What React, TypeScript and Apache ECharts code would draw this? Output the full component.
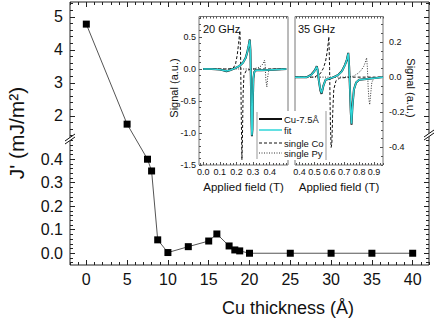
import React, { useEffect, useRef } from "react";
import * as echarts from "echarts";

// ---------- main panel data ----------
const thickness = [0, 5, 7.5, 8, 8.75, 10, 12.5, 15, 16, 17.5, 18.2, 18.8, 20, 25, 30, 35, 40];
const coupling = [4.78, 1.75, 0.4, 0.35, 0.057, 0.003, 0.028, 0.052, 0.082, 0.031, 0.014, 0.01, 0.0, 0.0, 0.0, 0.0, 0.0];
const xMajor = [0, 5, 10, 15, 20, 25, 30, 35, 40];
const yLowMajor = [0, 0.1, 0.2, 0.3, 0.4];
const yHighMajor = [2, 3, 4, 5];

// ---------- inset 20 GHz ----------
const cu20X = [0.0, 0.05, 0.1, 0.12, 0.14, 0.16, 0.19, 0.22, 0.24, 0.255, 0.265, 0.273, 0.28, 0.284, 0.287, 0.29, 0.293, 0.296, 0.299, 0.302, 0.307, 0.317, 0.35, 0.42, 0.5];
const cu20Y = [0.0, 0.0, -0.01, -0.02, -0.035, -0.02, 0.01, 0.05, 0.1, 0.17, 0.26, 0.36, 0.46, 0.3, -0.2, -0.75, -1.05, -0.95, -0.45, -0.15, -0.05, -0.02, -0.02, -0.01, 0.0];
const fit20Y = [0.0, 0.0, -0.01, -0.02, -0.03, -0.02, 0.01, 0.05, 0.1, 0.17, 0.26, 0.36, 0.45, 0.28, -0.22, -0.78, -1.04, -0.92, -0.42, -0.14, -0.05, -0.02, -0.02, -0.01, 0.0];
const co20X = [0.0, 0.15, 0.18, 0.195, 0.205, 0.213, 0.218, 0.221, 0.225, 0.229, 0.233, 0.236, 0.24, 0.245, 0.26, 0.3, 0.5];
const co20Y = [0.0, 0.0, 0.01, 0.08, 0.22, 0.4, 0.54, 0.6, 0.2, -0.7, -1.42, -1.1, -0.4, -0.1, -0.02, 0.0, 0.0];
const py20X = [0.0, 0.2, 0.3, 0.33, 0.35, 0.362, 0.369, 0.373, 0.377, 0.383, 0.387, 0.393, 0.4, 0.43, 0.5];
const py20Y = [0.0, 0.0, 0.0, 0.02, 0.05, 0.09, 0.14, 0.05, -0.18, -0.28, -0.15, -0.04, -0.01, 0.0, 0.0];

// ---------- inset 35 GHz ----------
const cu35X = [0.37, 0.45, 0.48, 0.5, 0.51, 0.516, 0.522, 0.53, 0.54, 0.548, 0.56, 0.575, 0.6, 0.63, 0.66, 0.685, 0.705, 0.718, 0.727, 0.733, 0.739, 0.744, 0.749, 0.755, 0.765, 0.78, 0.8, 0.85, 0.96];
const cu35Y = [0.0, 0.0, 0.015, 0.035, 0.05, 0.062, 0.04, -0.02, -0.075, -0.095, -0.05, -0.015, -0.01, 0.0, 0.013, 0.035, 0.07, 0.1, 0.138, 0.06, -0.08, -0.2, -0.27, -0.17, -0.07, -0.03, -0.015, -0.01, 0.0];
const fit35Y = [0.0, 0.0, 0.013, 0.033, 0.05, 0.06, 0.04, -0.02, -0.072, -0.09, -0.05, -0.015, -0.008, 0.0, 0.012, 0.034, 0.068, 0.1, 0.135, 0.06, -0.08, -0.2, -0.265, -0.17, -0.07, -0.03, -0.015, -0.01, 0.0];
const co35X = [0.37, 0.5, 0.54, 0.56, 0.575, 0.585, 0.592, 0.597, 0.602, 0.607, 0.612, 0.617, 0.623, 0.63, 0.645, 0.67, 0.75, 0.96];
const co35Y = [0.0, 0.0, 0.02, 0.05, 0.09, 0.14, 0.19, 0.23, 0.05, -0.25, -0.4, -0.38, -0.2, -0.07, -0.02, -0.005, 0.0, 0.0];
const py35X = [0.37, 0.6, 0.7, 0.76, 0.79, 0.815, 0.83, 0.842, 0.85, 0.855, 0.86, 0.866, 0.871, 0.877, 0.885, 0.9, 0.96];
const py35Y = [0.0, 0.0, 0.0, 0.005, 0.02, 0.04, 0.06, 0.085, 0.11, 0.06, -0.05, -0.13, -0.157, -0.1, -0.03, -0.005, 0.0];

const legendNames = ["Cu-7.5Å", "fit", "single Co", "single Py"];

// ---------- broken-axis mapping ----------
const BREAK_LOW = 0.4906;
const BREAK_HIGH = 1.333;
const RATIO = 33 / 235;
const T = (v: number) => (v <= 1 ? v : BREAK_LOW + (v - BREAK_HIGH) * RATIO);
const Tinv = (t: number) => (t <= BREAK_LOW + 1e-6 ? t : BREAK_HIGH + (t - BREAK_LOW) / RATIO);

const FONT = "'Liberation Sans', Arial, Helvetica, sans-serif";
const CYAN = "#2fd6d8";

const range = (a: number, b: number, s: number) => {
  const out: number[] = [];
  for (let i = 0; a + i * s <= b + 1e-9; i++) out.push(+(a + i * s).toFixed(6));
  return out;
};
const zip = (xs: number[], ys: number[]) => xs.map((x, i) => [x, ys[i]]);

type AxOpt = {
  grid: number; pos: string; min: number; max: number; ticks: number[]; len: number;
  color?: string; labels?: boolean; fmt?: (v: number) => string; fontSize?: number; margin?: number;
};
const ax = (o: AxOpt) => ({
  type: "value",
  gridIndex: o.grid,
  position: o.pos,
  min: o.min,
  max: o.max,
  axisLine: { show: false, onZero: false },
  axisTick: { show: true, inside: true, length: o.len, customValues: o.ticks, lineStyle: { color: o.color || "#222", width: 1 } },
  axisLabel: o.labels
    ? { show: true, customValues: o.ticks, formatter: o.fmt, fontSize: o.fontSize, fontFamily: FONT, color: "#111", margin: o.margin, showMinLabel: true, showMaxLabel: true, hideOverlap: false }
    : { show: false },
  splitLine: { show: false },
  minorTick: { show: false },
});

const X_MIN = -2, X_MAX = 42;
const Y_MIN = -0.05, Y_MAX = T(5.45);
const xMinor = range(-2, 42, 1);
const yMajorT = [...yLowMajor, ...yHighMajor.map(T)];
const yMinorT = [...range(-0.04, 0.48, 0.02), ...range(1.4, 5.4, 0.2).map(T)];
const yFmt = (v: number) => {
  const r = Tinv(v);
  return r > 1 ? String(Math.round(r)) : r.toFixed(1);
};
const f1 = (v: number) => (Math.abs(v) < 1e-9 ? "0.0" : v.toFixed(1));

const I1 = { xmin: -0.025, xmax: 0.51, ymin: -1.5, ymax: 0.82 };
const I2 = { xmin: 0.37, xmax: 0.96, ymin: -0.5, ymax: 0.345 };

const xAxes = [
  ax({ grid: 0, pos: "bottom", min: X_MIN, max: X_MAX, ticks: xMajor, len: 5, labels: true, fmt: (v) => String(v), fontSize: 16, margin: 6 }),
  ax({ grid: 0, pos: "bottom", min: X_MIN, max: X_MAX, ticks: xMinor, len: 3 }),
  ax({ grid: 0, pos: "top", min: X_MIN, max: X_MAX, ticks: xMajor, len: 5 }),
  ax({ grid: 0, pos: "top", min: X_MIN, max: X_MAX, ticks: xMinor, len: 3 }),
  ax({ grid: 1, pos: "bottom", min: I1.xmin, max: I1.xmax, ticks: range(0, 0.4, 0.1), len: 3, color: "#555", labels: true, fmt: f1, fontSize: 9, margin: 2 }),
  ax({ grid: 1, pos: "bottom", min: I1.xmin, max: I1.xmax, ticks: range(-0.02, 0.5, 0.02), len: 2, color: "#555" }),
  ax({ grid: 1, pos: "top", min: I1.xmin, max: I1.xmax, ticks: range(-0.02, 0.5, 0.02), len: 2, color: "#555" }),
  ax({ grid: 2, pos: "bottom", min: I2.xmin, max: I2.xmax, ticks: range(0.4, 0.9, 0.1), len: 3, color: "#555", labels: true, fmt: f1, fontSize: 9, margin: 2 }),
  ax({ grid: 2, pos: "bottom", min: I2.xmin, max: I2.xmax, ticks: range(0.38, 0.96, 0.02), len: 2, color: "#555" }),
  ax({ grid: 2, pos: "top", min: I2.xmin, max: I2.xmax, ticks: range(0.38, 0.96, 0.02), len: 2, color: "#555" }),
];

const yAxes = [
  ax({ grid: 0, pos: "left", min: Y_MIN, max: Y_MAX, ticks: yMajorT, len: 5, labels: true, fmt: yFmt, fontSize: 16, margin: 7 }),
  ax({ grid: 0, pos: "left", min: Y_MIN, max: Y_MAX, ticks: yMinorT, len: 3 }),
  ax({ grid: 0, pos: "right", min: Y_MIN, max: Y_MAX, ticks: yMajorT, len: 5 }),
  ax({ grid: 0, pos: "right", min: Y_MIN, max: Y_MAX, ticks: yMinorT, len: 3 }),
  ax({ grid: 1, pos: "left", min: I1.ymin, max: I1.ymax, ticks: [-1.5, -1, -0.5, 0, 0.5], len: 3, color: "#555", labels: true, fmt: f1, fontSize: 9, margin: 3 }),
  ax({ grid: 1, pos: "left", min: I1.ymin, max: I1.ymax, ticks: range(-1.5, 0.8, 0.1), len: 2, color: "#555" }),
  ax({ grid: 2, pos: "right", min: I2.ymin, max: I2.ymax, ticks: [-0.4, -0.2, 0, 0.2], len: 3, color: "#555", labels: true, fmt: f1, fontSize: 9, margin: 6 }),
  ax({ grid: 2, pos: "right", min: I2.ymin, max: I2.ymax, ticks: range(-0.5, 0.3, 0.05), len: 2, color: "#555" }),
];

const lineSeries = (xi: number, yi: number, data: number[][], style: any, z: number) => ({
  type: "line",
  xAxisIndex: xi,
  yAxisIndex: yi,
  data,
  symbol: "none",
  lineStyle: style,
  z,
  silent: true,
});

const styles = {
  cu: { color: "#111", width: 2 },
  fit: { color: CYAN, width: 1.5 },
  co: { color: "#111", width: 1, type: [3, 2] },
  py: { color: "#333", width: 1, type: [1, 1.5] },
};

const txt = (text: string, x: number, y: number, size: number, extra: any = {}) => ({
  type: "text",
  x,
  y,
  z: 100,
  rotation: extra.rotation || 0,
  style: {
    text,
    fontSize: size,
    fontFamily: FONT,
    fill: "#111",
    textAlign: extra.align || "center",
    align: extra.align || "center",
    textVerticalAlign: "middle",
    verticalAlign: "middle",
  },
});

const breakMark = (cx: number, cy: number) => [
  { type: "polygon", z: 100, shape: { points: [[cx - 5, cy + 4], [cx + 5, cy - 3], [cx + 5, cy], [cx - 5, cy + 7]] }, style: { fill: "#fff" } },
  { type: "line", z: 101, shape: { x1: cx - 5, y1: cy + 4, x2: cx + 5, y2: cy - 3 }, style: { stroke: "#111", lineWidth: 1 } },
  { type: "line", z: 101, shape: { x1: cx - 5, y1: cy + 7, x2: cx + 5, y2: cy }, style: { stroke: "#111", lineWidth: 1 } },
];

const legendRows = [119, 130, 143, 153];
const legendStyles = [
  { stroke: "#111", lineWidth: 2 },
  { stroke: CYAN, lineWidth: 1.5 },
  { stroke: "#111", lineWidth: 1, lineDash: [3, 2] },
  { stroke: "#333", lineWidth: 1, lineDash: [1, 1.5] },
];

const graphics: any[] = [
  txt("J' (mJ/m²)", 16, 133, 21, { rotation: Math.PI / 2 }),
  txt("Cu thickness (Å)", 288, 308, 18),
  txt("Signal (a.u.)", 174, 88, 11, { rotation: Math.PI / 2 }),
  txt("Signal (a.u.)", 411, 88, 11, { rotation: -Math.PI / 2 }),
  txt("Applied field (T)", 243.5, 187, 11.5),
  txt("Applied field (T)", 339, 187, 11.5),
  txt("20 GHz", 203, 29, 11, { align: "left" }),
  txt("35 GHz", 298, 29, 11, { align: "left" }),
  { type: "rect", z: 98, shape: { x: 257, y: 111, width: 69, height: 49 }, style: { fill: "#fff" } },
  { type: "line", z: 99, shape: { x1: 257, y1: 112, x2: 257, y2: 159 }, style: { stroke: "#999", lineWidth: 1 } },
  { type: "line", z: 99, shape: { x1: 326, y1: 111, x2: 326, y2: 160 }, style: { stroke: "#999", lineWidth: 1 } },
  ...legendRows.map((y, i) => ({ type: "line", z: 100, shape: { x1: 259, y1: y, x2: 282, y2: y }, style: legendStyles[i] })),
  ...legendRows.map((y, i) => txt(legendNames[i], 284, y, 9.5, { align: "left" })),
  ...breakMark(70, 137),
  ...breakMark(429, 133),
];

const option: any = {
  animation: false,
  backgroundColor: "#fff",
  grid: [
    { left: 70, top: 2, width: 359, height: 263, show: true, borderColor: "#222", borderWidth: 1, backgroundColor: "transparent" },
    { left: 199, top: 16.5, width: 89, height: 148.5, show: true, borderColor: "#777", borderWidth: 1, backgroundColor: "transparent" },
    { left: 295, top: 16.5, width: 88, height: 148.5, show: true, borderColor: "#777", borderWidth: 1, backgroundColor: "transparent" },
  ],
  xAxis: xAxes,
  yAxis: yAxes,
  series: [
    {
      type: "line",
      xAxisIndex: 0,
      yAxisIndex: 0,
      data: thickness.map((x, i) => [x, T(coupling[i])]),
      symbol: "rect",
      symbolSize: 7,
      itemStyle: { color: "#000" },
      lineStyle: { color: "#555", width: 1 },
      z: 5,
      silent: true,
    },
    lineSeries(4, 4, zip(co20X, co20Y), styles.co, 3),
    lineSeries(4, 4, zip(py20X, py20Y), styles.py, 3),
    lineSeries(4, 4, zip(cu20X, cu20Y), styles.cu, 4),
    lineSeries(4, 4, zip(cu20X, fit20Y), styles.fit, 5),
    lineSeries(7, 6, zip(co35X, co35Y), styles.co, 3),
    lineSeries(7, 6, zip(py35X, py35Y), styles.py, 3),
    lineSeries(7, 6, zip(cu35X, cu35Y), styles.cu, 4),
    lineSeries(7, 6, zip(cu35X, fit35Y), styles.fit, 5),
  ],
  graphic: graphics,
};

export default function App() {
  const ref = useRef<HTMLDivElement>(null);
  useEffect(() => {
    if (!ref.current) return;
    const chart = echarts.init(ref.current, null, { renderer: "svg" });
    chart.setOption(option);
    return () => chart.dispose();
  }, []);
  return <div ref={ref} style={{ position: "absolute", left: 0, top: 0, width: 436, height: 327 }} />;
}
